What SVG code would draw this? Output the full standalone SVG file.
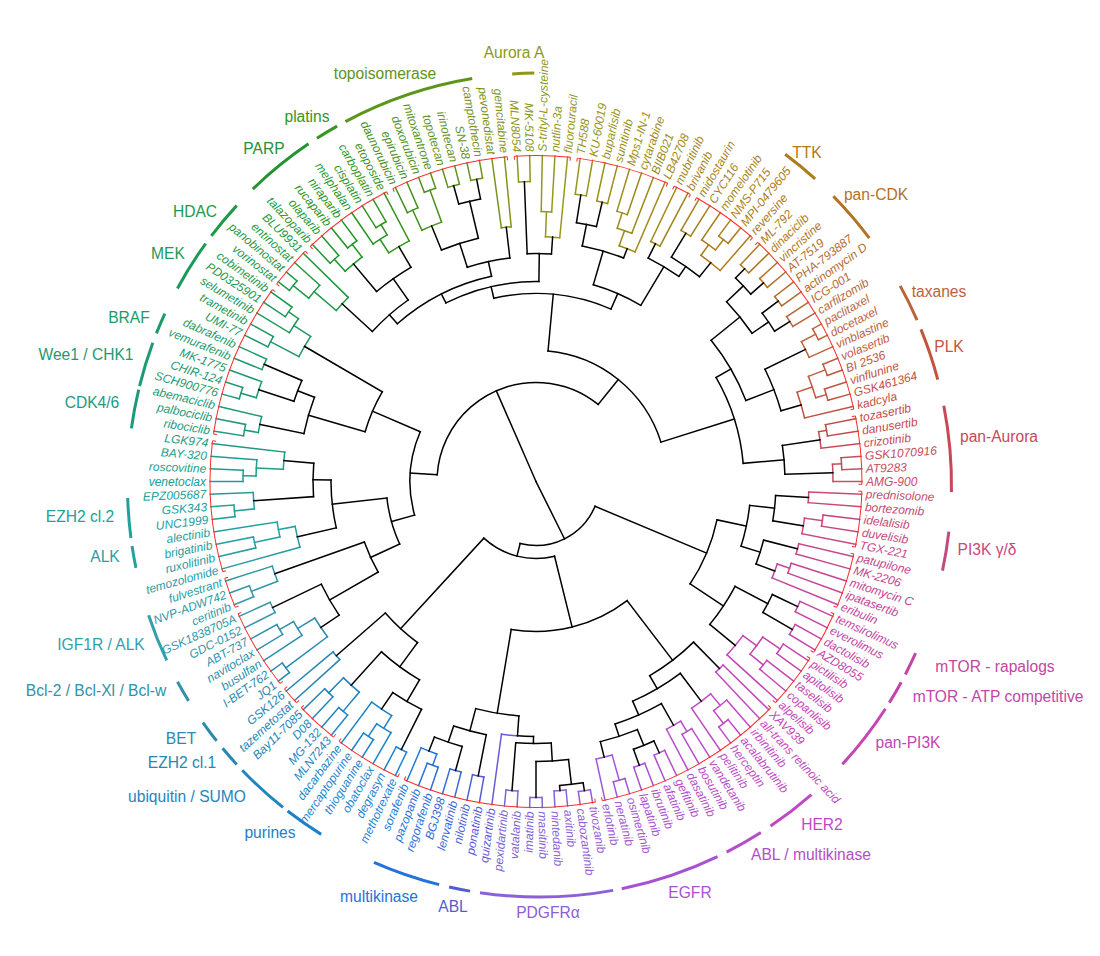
<svg xmlns="http://www.w3.org/2000/svg" width="1100" height="956" viewBox="0 0 1100 956">
<style>
.l text{font-family:"Liberation Sans",Arial,sans-serif;font-size:12px;font-style:italic;dominant-baseline:central;fill:var(--c)}
.l .e{text-anchor:end}
.g{font-family:"Liberation Sans",Arial,sans-serif;font-size:15.6px;text-anchor:middle}
.t line,.t circle{fill:none;stroke:var(--c,#000);stroke-width:1.5;stroke-linecap:square}
.rr circle,.rr line{fill:none;stroke:#ff2a2a;stroke-width:1}
.ga circle{fill:none;stroke-width:3}
.c1{--c:hsl(168,68%,36%)}.c2{--c:hsl(167,68%,36%)}.c3{--c:hsl(165,68%,36%)}.c4{--c:hsl(164,68%,36%)}.c5{--c:hsl(162,68%,36%)}.c6{--c:hsl(161,68%,36%)}.c7{--c:hsl(159,68%,36%)}.c8{--c:hsl(158,68%,36%)}.c9{--c:hsl(156,68%,36%)}.c10{--c:hsl(155,68%,36%)}
.c11{--c:hsl(152,68%,36%)}.c12{--c:hsl(150,68%,36%)}.c13{--c:hsl(147,68%,36%)}.c14{--c:hsl(145,68%,36%)}.c15{--c:hsl(142,68%,36%)}.c16{--c:hsl(140,68%,36%)}.c17{--c:hsl(137,68%,36%)}.c18{--c:hsl(135,68%,36%)}.c19{--c:hsl(131,66%,36%)}.c20{--c:hsl(127,66%,36%)}
.c21{--c:hsl(124,66%,35%)}.c22{--c:hsl(120,66%,35%)}.c23{--c:hsl(116,66%,35%)}.c24{--c:hsl(112,66%,35%)}.c25{--c:hsl(109,66%,35%)}.c26{--c:hsl(105,66%,34%)}.c27{--c:hsl(101,66%,34%)}.c28{--c:hsl(98,66%,34%)}.c29{--c:hsl(94,66%,34%)}.c30{--c:hsl(90,68%,34%)}
.c31{--c:hsl(86,68%,34%)}.c32{--c:hsl(83,68%,34%)}.c33{--c:hsl(79,68%,34%)}.c34{--c:hsl(75,70%,34%)}.c35{--c:hsl(72,70%,34%)}.c36{--c:hsl(68,70%,34%)}.c37{--c:hsl(66,70%,35%)}.c38{--c:hsl(65,70%,35%)}.c39{--c:hsl(63,70%,35%)}.c40{--c:hsl(62,70%,35%)}
.c41{--c:hsl(60,70%,35%)}.c42{--c:hsl(59,70%,35%)}.c43{--c:hsl(57,72%,35%)}.c44{--c:hsl(56,72%,35%)}.c45{--c:hsl(54,72%,35%)}.c46{--c:hsl(53,72%,36%)}.c47{--c:hsl(51,72%,36%)}.c48{--c:hsl(50,72%,36%)}.c49{--c:hsl(49,72%,37%)}.c50{--c:hsl(48,72%,37%)}
.c51{--c:hsl(46,72%,37%)}.c52{--c:hsl(45,72%,38%)}.c53{--c:hsl(44,72%,38%)}.c54{--c:hsl(43,72%,38%)}.c55{--c:hsl(42,74%,39%)}.c56{--c:hsl(40,74%,39%)}.c57{--c:hsl(39,74%,39%)}.c58{--c:hsl(38,74%,40%)}.c59{--c:hsl(36,70%,41%)}.c60{--c:hsl(33,66%,42%)}
.c61{--c:hsl(31,62%,43%)}.c62{--c:hsl(29,58%,44%)}.c63{--c:hsl(27,56%,45%)}.c64{--c:hsl(24,54%,46%)}.c65{--c:hsl(22,52%,47%)}.c66{--c:hsl(20,52%,48%)}.c67{--c:hsl(18,52%,49%)}.c68{--c:hsl(16,52%,49%)}.c69{--c:hsl(14,52%,50%)}.c70{--c:hsl(11,52%,50%)}
.c71{--c:hsl(9,52%,51%)}.c72{--c:hsl(7,52%,51%)}.c73{--c:hsl(5,52%,52%)}.c74{--c:hsl(2,52%,52%)}.c75{--c:hsl(358,52%,53%)}.c76{--c:hsl(355,52%,53%)}.c77{--c:hsl(352,52%,53%)}.c78{--c:hsl(348,52%,54%)}.c79{--c:hsl(345,52%,54%)}.c80{--c:hsl(342,52%,54%)}
.c81{--c:hsl(339,52%,53%)}.c82{--c:hsl(337,52%,53%)}.c83{--c:hsl(334,52%,53%)}.c84{--c:hsl(331,52%,53%)}.c85{--c:hsl(328,52%,53%)}.c86{--c:hsl(326,52%,52%)}.c87{--c:hsl(323,52%,52%)}.c88{--c:hsl(320,52%,52%)}.c89{--c:hsl(318,52%,52%)}.c90{--c:hsl(317,52%,52%)}
.c91{--c:hsl(315,52%,52%)}.c92{--c:hsl(314,52%,52%)}.c93{--c:hsl(312,52%,52%)}.c94{--c:hsl(311,52%,52%)}.c95{--c:hsl(309,52%,52%)}.c96{--c:hsl(308,52%,52%)}.c97{--c:hsl(306,52%,52%)}.c98{--c:hsl(305,52%,52%)}.c99{--c:hsl(303,52%,52%)}.c100{--c:hsl(302,52%,53%)}
.c101{--c:hsl(300,52%,53%)}.c102{--c:hsl(298,52%,53%)}.c103{--c:hsl(296,52%,54%)}.c104{--c:hsl(295,52%,54%)}.c105{--c:hsl(293,52%,54%)}.c106{--c:hsl(291,52%,54%)}.c107{--c:hsl(290,52%,55%)}.c108{--c:hsl(288,56%,55%)}.c109{--c:hsl(285,58%,56%)}.c110{--c:hsl(283,58%,56%)}
.c111{--c:hsl(280,58%,57%)}.c112{--c:hsl(278,60%,58%)}.c113{--c:hsl(275,60%,59%)}.c114{--c:hsl(273,60%,59%)}.c115{--c:hsl(270,60%,60%)}.c116{--c:hsl(267,60%,60%)}.c117{--c:hsl(265,60%,61%)}.c118{--c:hsl(262,60%,61%)}.c119{--c:hsl(260,60%,61%)}.c120{--c:hsl(257,60%,61%)}
.c121{--c:hsl(255,60%,62%)}.c122{--c:hsl(252,60%,62%)}.c123{--c:hsl(245,60%,60%)}.c124{--c:hsl(239,60%,59%)}.c125{--c:hsl(232,62%,57%)}.c126{--c:hsl(225,66%,55%)}.c127{--c:hsl(221,68%,53%)}.c128{--c:hsl(218,70%,52%)}.c129{--c:hsl(214,72%,50%)}.c130{--c:hsl(211,74%,49%)}
.c131{--c:hsl(207,76%,47%)}.c132{--c:hsl(206,76%,46%)}.c133{--c:hsl(205,76%,46%)}.c134{--c:hsl(205,76%,45%)}.c135{--c:hsl(204,76%,45%)}.c136{--c:hsl(203,76%,44%)}.c137{--c:hsl(202,74%,44%)}.c138{--c:hsl(202,72%,43%)}.c139{--c:hsl(201,70%,43%)}.c140{--c:hsl(200,68%,42%)}
.c141{--c:hsl(199,66%,42%)}.c142{--c:hsl(198,64%,42%)}.c143{--c:hsl(196,62%,42%)}.c144{--c:hsl(195,60%,42%)}.c145{--c:hsl(194,58%,43%)}.c146{--c:hsl(193,56%,43%)}.c147{--c:hsl(192,55%,43%)}.c148{--c:hsl(190,55%,43%)}.c149{--c:hsl(189,54%,43%)}.c150{--c:hsl(188,54%,43%)}
.c151{--c:hsl(187,56%,42%)}.c152{--c:hsl(185,58%,41%)}.c153{--c:hsl(184,60%,40%)}.c154{--c:hsl(183,62%,39%)}.c155{--c:hsl(181,64%,39%)}.c156{--c:hsl(180,66%,38%)}.c157{--c:hsl(179,66%,38%)}.c158{--c:hsl(177,66%,38%)}.c159{--c:hsl(176,66%,37%)}.c160{--c:hsl(175,66%,37%)}
.c161{--c:hsl(173,66%,37%)}.c162{--c:hsl(172,66%,37%)}
</style>
<rect width="1100" height="956" fill="#fff"/>
<g id="connectors" class="t" transform="translate(536,481.5)">
<circle class="c160" r="293" pathLength="360" stroke-dasharray="2.22 400" transform="rotate(540)"/><line class="c160" x1="293" x2="326" transform="rotate(540)"/><line class="c161" x1="293" x2="326" transform="rotate(542.22)"/>
<circle class="c161" r="280" pathLength="360" stroke-dasharray="3.33 400" transform="rotate(541.11)"/><line class="c162" x1="280" x2="326" transform="rotate(544.44)"/><line class="c161" x1="280" x2="293" transform="rotate(541.11)"/>
<circle class="c162" r="253" pathLength="360" stroke-dasharray="3.89 400" transform="rotate(542.78)"/><line class="c1" x1="253" x2="326" transform="rotate(546.67)"/><line class="c162" x1="253" x2="280" transform="rotate(542.78)"/>
<circle class="c157" r="303" pathLength="360" stroke-dasharray="2.22 400" transform="rotate(533.33)"/><line class="c157" x1="303" x2="326" transform="rotate(533.33)"/><line class="c158" x1="303" x2="326" transform="rotate(535.56)"/>
<circle class="c158" r="283" pathLength="360" stroke-dasharray="3.34 400" transform="rotate(534.44)"/><line class="c159" x1="283" x2="326" transform="rotate(537.78)"/><line class="c158" x1="283" x2="303" transform="rotate(534.44)"/>
<circle r="223" pathLength="360" stroke-dasharray="8.61 400" transform="rotate(536.11)"/><line x1="223" x2="283" transform="rotate(536.11)"/><line x1="223" x2="253" transform="rotate(544.72)"/>
<circle class="c154" r="288" pathLength="360" stroke-dasharray="2.22 400" transform="rotate(526.67)"/><line class="c154" x1="288" x2="326" transform="rotate(526.67)"/><line class="c155" x1="288" x2="326" transform="rotate(528.89)"/>
<circle class="c155" r="262" pathLength="360" stroke-dasharray="3.33 400" transform="rotate(527.78)"/><line class="c156" x1="262" x2="326" transform="rotate(531.11)"/><line class="c155" x1="262" x2="288" transform="rotate(527.78)"/>
<circle class="c154" r="245" pathLength="360" stroke-dasharray="5 400" transform="rotate(524.44)"/><line class="c153" x1="245" x2="326" transform="rotate(524.44)"/><line class="c156" x1="245" x2="262" transform="rotate(529.44)"/>
<circle r="205" pathLength="360" stroke-dasharray="13.48 400" transform="rotate(526.94)"/><line x1="205" x2="245" transform="rotate(526.94)"/><line x1="205" x2="223" transform="rotate(540.42)"/>
<circle class="c2" r="296" pathLength="360" stroke-dasharray="2.22 400" transform="rotate(548.89)"/><line class="c2" x1="296" x2="326" transform="rotate(548.89)"/><line class="c3" x1="296" x2="326" transform="rotate(551.11)"/>
<circle class="c3" r="282" pathLength="360" stroke-dasharray="3.33 400" transform="rotate(550)"/><line class="c4" x1="282" x2="326" transform="rotate(553.33)"/><line class="c3" x1="282" x2="296" transform="rotate(550)"/>
<circle class="c5" r="308" pathLength="360" stroke-dasharray="2.22 400" transform="rotate(555.56)"/><line class="c5" x1="308" x2="326" transform="rotate(555.56)"/><line class="c6" x1="308" x2="326" transform="rotate(557.78)"/>
<circle class="c6" r="292" pathLength="360" stroke-dasharray="3.33 400" transform="rotate(556.67)"/><line class="c7" x1="292" x2="326" transform="rotate(560)"/><line class="c6" x1="292" x2="308" transform="rotate(556.67)"/>
<circle class="c8" r="296" pathLength="360" stroke-dasharray="2.22 400" transform="rotate(562.22)"/><line class="c8" x1="296" x2="326" transform="rotate(562.22)"/><line class="c9" x1="296" x2="326" transform="rotate(564.44)"/>
<circle r="255" pathLength="360" stroke-dasharray="5 400" transform="rotate(558.33)"/><line x1="255" x2="292" transform="rotate(558.33)"/><line x1="255" x2="296" transform="rotate(563.33)"/>
<circle r="237" pathLength="360" stroke-dasharray="9.16 400" transform="rotate(551.67)"/><line x1="237" x2="282" transform="rotate(551.67)"/><line x1="237" x2="255" transform="rotate(560.83)"/>
<circle class="c10" r="300" pathLength="360" stroke-dasharray="2.22 400" transform="rotate(566.67)"/><line class="c10" x1="300" x2="326" transform="rotate(566.67)"/><line class="c11" x1="300" x2="326" transform="rotate(568.89)"/>
<circle class="c13" r="300" pathLength="360" stroke-dasharray="2.22 400" transform="rotate(573.33)"/><line class="c13" x1="300" x2="326" transform="rotate(573.33)"/><line class="c14" x1="300" x2="326" transform="rotate(575.56)"/>
<circle class="c12" r="288" pathLength="360" stroke-dasharray="3.33 400" transform="rotate(571.11)"/><line class="c12" x1="288" x2="326" transform="rotate(571.11)"/><line class="c13" x1="288" x2="300" transform="rotate(574.44)"/>
<circle class="c11" r="268" pathLength="360" stroke-dasharray="5 400" transform="rotate(567.78)"/><line class="c10" x1="268" x2="300" transform="rotate(567.78)"/><line class="c12" x1="268" x2="288" transform="rotate(572.78)"/>
<circle r="178" pathLength="360" stroke-dasharray="14.03 400" transform="rotate(556.25)"/><line x1="178" x2="237" transform="rotate(556.25)"/><line x1="178" x2="268" transform="rotate(570.28)"/>
<circle class="c143" r="312" pathLength="360" stroke-dasharray="2.22 400" transform="rotate(502.22)"/><line class="c143" x1="312" x2="326" transform="rotate(502.22)"/><line class="c144" x1="312" x2="326" transform="rotate(504.44)"/>
<circle class="c146" r="296" pathLength="360" stroke-dasharray="2.22 400" transform="rotate(508.89)"/><line class="c146" x1="296" x2="326" transform="rotate(508.89)"/><line class="c147" x1="296" x2="326" transform="rotate(511.11)"/>
<circle class="c145" r="280" pathLength="360" stroke-dasharray="3.33 400" transform="rotate(506.67)"/><line class="c145" x1="280" x2="326" transform="rotate(506.67)"/><line class="c146" x1="280" x2="296" transform="rotate(510)"/>
<circle class="c144" r="260" pathLength="360" stroke-dasharray="5 400" transform="rotate(503.33)"/><line class="c143" x1="260" x2="312" transform="rotate(503.33)"/><line class="c145" x1="260" x2="280" transform="rotate(508.33)"/>
<circle class="c148" r="292" pathLength="360" stroke-dasharray="2.22 400" transform="rotate(513.33)"/><line class="c148" x1="292" x2="326" transform="rotate(513.33)"/><line class="c149" x1="292" x2="326" transform="rotate(515.56)"/>
<circle r="238" pathLength="360" stroke-dasharray="8.61 400" transform="rotate(505.83)"/><line x1="238" x2="260" transform="rotate(505.83)"/><line x1="238" x2="292" transform="rotate(514.44)"/>
<circle class="c150" r="305" pathLength="360" stroke-dasharray="2.22 400" transform="rotate(517.78)"/><line class="c150" x1="305" x2="326" transform="rotate(517.78)"/><line class="c151" x1="305" x2="326" transform="rotate(520)"/>
<circle class="c151" r="277" pathLength="360" stroke-dasharray="3.33 400" transform="rotate(518.89)"/><line class="c150" x1="277" x2="305" transform="rotate(518.89)"/><line class="c152" x1="277" x2="326" transform="rotate(522.22)"/>
<circle r="182" pathLength="360" stroke-dasharray="10.42 400" transform="rotate(510.14)"/><line x1="182" x2="238" transform="rotate(510.14)"/><line x1="182" x2="277" transform="rotate(520.56)"/>
<circle r="150" pathLength="360" stroke-dasharray="18.33 400" transform="rotate(515.35)"/><line x1="150" x2="182" transform="rotate(515.35)"/><line x1="150" x2="205" transform="rotate(533.68)"/>
<circle r="126" pathLength="360" stroke-dasharray="38.75 400" transform="rotate(524.51)"/><line x1="126" x2="150" transform="rotate(524.51)"/><line x1="126" x2="178" transform="rotate(563.26)"/>
<circle class="c15" r="312" pathLength="360" stroke-dasharray="2.22 400" transform="rotate(577.78)"/><line class="c15" x1="312" x2="326" transform="rotate(577.78)"/><line class="c16" x1="312" x2="326" transform="rotate(580)"/>
<circle class="c16" r="292" pathLength="360" stroke-dasharray="3.33 400" transform="rotate(578.89)"/><line class="c15" x1="292" x2="312" transform="rotate(578.89)"/><line class="c17" x1="292" x2="326" transform="rotate(582.22)"/>
<circle class="c17" r="263" pathLength="360" stroke-dasharray="3.88 400" transform="rotate(580.56)"/><line class="c16" x1="263" x2="292" transform="rotate(580.56)"/><line class="c18" x1="263" x2="326" transform="rotate(584.44)"/>
<circle class="c19" r="300" pathLength="360" stroke-dasharray="2.22 400" transform="rotate(586.67)"/><line class="c19" x1="300" x2="326" transform="rotate(586.67)"/><line class="c20" x1="300" x2="326" transform="rotate(588.89)"/>
<circle class="c21" r="300" pathLength="360" stroke-dasharray="2.22 400" transform="rotate(591.11)"/><line class="c21" x1="300" x2="326" transform="rotate(591.11)"/><line class="c22" x1="300" x2="326" transform="rotate(593.33)"/>
<circle class="c20" r="284" pathLength="360" stroke-dasharray="4.44 400" transform="rotate(587.78)"/><line class="c19" x1="284" x2="300" transform="rotate(587.78)"/><line class="c21" x1="284" x2="300" transform="rotate(592.22)"/>
<circle class="c24" r="300" pathLength="360" stroke-dasharray="2.22 400" transform="rotate(597.78)"/><line class="c24" x1="300" x2="326" transform="rotate(597.78)"/><line class="c25" x1="300" x2="326" transform="rotate(600)"/>
<circle class="c23" r="288" pathLength="360" stroke-dasharray="3.33 400" transform="rotate(595.56)"/><line class="c23" x1="288" x2="326" transform="rotate(595.56)"/><line class="c24" x1="288" x2="300" transform="rotate(598.89)"/>
<circle class="c25" r="272" pathLength="360" stroke-dasharray="5 400" transform="rotate(597.22)"/><line class="c24" x1="272" x2="288" transform="rotate(597.22)"/><line class="c26" x1="272" x2="326" transform="rotate(602.22)"/>
<circle r="248" pathLength="360" stroke-dasharray="9.72 400" transform="rotate(590)"/><line x1="248" x2="284" transform="rotate(590)"/><line x1="248" x2="272" transform="rotate(599.72)"/>
<circle class="c27" r="298" pathLength="360" stroke-dasharray="2.22 400" transform="rotate(604.44)"/><line class="c27" x1="298" x2="326" transform="rotate(604.44)"/><line class="c28" x1="298" x2="326" transform="rotate(606.67)"/>
<circle class="c29" r="310" pathLength="360" stroke-dasharray="2.22 400" transform="rotate(608.89)"/><line class="c29" x1="310" x2="326" transform="rotate(608.89)"/><line class="c30" x1="310" x2="326" transform="rotate(611.11)"/>
<circle class="c28" r="276" pathLength="360" stroke-dasharray="4.44 400" transform="rotate(605.56)"/><line class="c27" x1="276" x2="298" transform="rotate(605.56)"/><line class="c29" x1="276" x2="310" transform="rotate(610)"/>
<circle class="c31" r="307" pathLength="360" stroke-dasharray="2.22 400" transform="rotate(613.33)"/><line class="c31" x1="307" x2="326" transform="rotate(613.33)"/><line class="c32" x1="307" x2="326" transform="rotate(615.56)"/>
<circle class="c33" r="308" pathLength="360" stroke-dasharray="2.22 400" transform="rotate(617.78)"/><line class="c33" x1="308" x2="326" transform="rotate(617.78)"/><line class="c34" x1="308" x2="326" transform="rotate(620)"/>
<circle r="288" pathLength="360" stroke-dasharray="4.45 400" transform="rotate(614.44)"/><line x1="288" x2="307" transform="rotate(614.44)"/><line x1="288" x2="308" transform="rotate(618.89)"/>
<circle r="250" pathLength="360" stroke-dasharray="8.89 400" transform="rotate(607.78)"/><line x1="250" x2="276" transform="rotate(607.78)"/><line x1="250" x2="288" transform="rotate(616.67)"/>
<circle class="c35" r="256" pathLength="360" stroke-dasharray="2.22 400" transform="rotate(622.22)"/><line class="c35" x1="256" x2="326" transform="rotate(622.22)"/><line class="c36" x1="256" x2="326" transform="rotate(624.44)"/>
<circle r="225" pathLength="360" stroke-dasharray="11.11 400" transform="rotate(612.22)"/><line x1="225" x2="250" transform="rotate(612.22)"/><line x1="225" x2="256" transform="rotate(623.33)"/>
<circle class="c37" r="300" pathLength="360" stroke-dasharray="2.22 400" transform="rotate(626.67)"/><line class="c37" x1="300" x2="326" transform="rotate(626.67)"/><line class="c38" x1="300" x2="326" transform="rotate(628.89)"/>
<circle class="c39" r="270" pathLength="360" stroke-dasharray="2.22 400" transform="rotate(631.11)"/><line class="c39" x1="270" x2="326" transform="rotate(631.11)"/><line class="c40" x1="270" x2="326" transform="rotate(633.33)"/>
<circle class="c40" r="245" pathLength="360" stroke-dasharray="3.34 400" transform="rotate(632.22)"/><line class="c39" x1="245" x2="270" transform="rotate(632.22)"/><line class="c41" x1="245" x2="326" transform="rotate(635.56)"/>
<circle r="228" pathLength="360" stroke-dasharray="6.11 400" transform="rotate(627.78)"/><line x1="228" x2="300" transform="rotate(627.78)"/><line x1="228" x2="245" transform="rotate(633.89)"/>
<circle class="c42" r="290" pathLength="360" stroke-dasharray="2.22 400" transform="rotate(637.78)"/><line class="c42" x1="290" x2="326" transform="rotate(637.78)"/><line class="c43" x1="290" x2="326" transform="rotate(640)"/>
<circle class="c44" r="287" pathLength="360" stroke-dasharray="2.22 400" transform="rotate(642.22)"/><line class="c44" x1="287" x2="326" transform="rotate(642.22)"/><line class="c45" x1="287" x2="326" transform="rotate(644.44)"/>
<circle r="262" pathLength="360" stroke-dasharray="4.44 400" transform="rotate(638.89)"/><line x1="262" x2="290" transform="rotate(638.89)"/><line x1="262" x2="287" transform="rotate(643.33)"/>
<circle class="c46" r="282" pathLength="360" stroke-dasharray="2.22 400" transform="rotate(646.67)"/><line class="c46" x1="282" x2="326" transform="rotate(646.67)"/><line class="c47" x1="282" x2="326" transform="rotate(648.89)"/>
<circle class="c47" r="266" pathLength="360" stroke-dasharray="3.33 400" transform="rotate(647.78)"/><line class="c46" x1="266" x2="282" transform="rotate(647.78)"/><line class="c48" x1="266" x2="326" transform="rotate(651.11)"/>
<circle class="c48" r="250" pathLength="360" stroke-dasharray="3.89 400" transform="rotate(649.44)"/><line class="c47" x1="250" x2="266" transform="rotate(649.44)"/><line class="c49" x1="250" x2="326" transform="rotate(653.33)"/>
<circle r="240" pathLength="360" stroke-dasharray="10.28 400" transform="rotate(641.11)"/><line x1="240" x2="262" transform="rotate(641.11)"/><line x1="240" x2="250" transform="rotate(651.39)"/>
<circle class="c50" r="266" pathLength="360" stroke-dasharray="2.22 400" transform="rotate(655.56)"/><line class="c50" x1="266" x2="326" transform="rotate(655.56)"/><line class="c51" x1="266" x2="326" transform="rotate(657.78)"/>
<circle class="c52" r="290" pathLength="360" stroke-dasharray="2.22 400" transform="rotate(660)"/><line class="c52" x1="290" x2="326" transform="rotate(660)"/><line class="c53" x1="290" x2="326" transform="rotate(662.22)"/>
<circle class="c55" r="306" pathLength="360" stroke-dasharray="2.22 400" transform="rotate(666.67)"/><line class="c55" x1="306" x2="326" transform="rotate(666.67)"/><line class="c56" x1="306" x2="326" transform="rotate(668.89)"/>
<circle class="c54" r="293" pathLength="360" stroke-dasharray="3.34 400" transform="rotate(664.44)"/><line class="c54" x1="293" x2="326" transform="rotate(664.44)"/><line class="c55" x1="293" x2="306" transform="rotate(667.78)"/>
<circle class="c56" r="280" pathLength="360" stroke-dasharray="5 400" transform="rotate(666.11)"/><line class="c54" x1="280" x2="293" transform="rotate(666.11)"/><line class="c57" x1="280" x2="326" transform="rotate(671.11)"/>
<circle r="262" pathLength="360" stroke-dasharray="7.5 400" transform="rotate(661.11)"/><line x1="262" x2="290" transform="rotate(661.11)"/><line x1="262" x2="280" transform="rotate(668.61)"/>
<circle r="250" pathLength="360" stroke-dasharray="8.19 400" transform="rotate(656.67)"/><line x1="250" x2="266" transform="rotate(656.67)"/><line x1="250" x2="262" transform="rotate(664.86)"/>
<circle class="c58" r="298" pathLength="360" stroke-dasharray="2.22 400" transform="rotate(673.33)"/><line class="c58" x1="298" x2="326" transform="rotate(673.33)"/><line class="c59" x1="298" x2="326" transform="rotate(675.56)"/>
<circle class="c60" r="302" pathLength="360" stroke-dasharray="2.22 400" transform="rotate(677.78)"/><line class="c60" x1="302" x2="326" transform="rotate(677.78)"/><line class="c61" x1="302" x2="326" transform="rotate(680)"/>
<circle r="285" pathLength="360" stroke-dasharray="4.45 400" transform="rotate(674.44)"/><line x1="285" x2="298" transform="rotate(674.44)"/><line x1="285" x2="302" transform="rotate(678.89)"/>
<circle class="c62" r="302" pathLength="360" stroke-dasharray="2.22 400" transform="rotate(682.22)"/><line class="c62" x1="302" x2="326" transform="rotate(682.22)"/><line class="c63" x1="302" x2="326" transform="rotate(684.44)"/>
<circle class="c64" r="300" pathLength="360" stroke-dasharray="2.22 400" transform="rotate(686.67)"/><line class="c64" x1="300" x2="326" transform="rotate(686.67)"/><line class="c65" x1="300" x2="326" transform="rotate(688.89)"/>
<circle r="282" pathLength="360" stroke-dasharray="4.45 400" transform="rotate(683.33)"/><line x1="282" x2="302" transform="rotate(683.33)"/><line x1="282" x2="300" transform="rotate(687.78)"/>
<circle r="262" pathLength="360" stroke-dasharray="8.89 400" transform="rotate(676.67)"/><line x1="262" x2="285" transform="rotate(676.67)"/><line x1="262" x2="282" transform="rotate(685.56)"/>
<circle class="c66" r="316" pathLength="360" stroke-dasharray="2.22 400" transform="rotate(691.11)"/><line class="c66" x1="316" x2="326" transform="rotate(691.11)"/><line class="c67" x1="316" x2="326" transform="rotate(693.33)"/>
<circle class="c67" r="300" pathLength="360" stroke-dasharray="3.34 400" transform="rotate(692.22)"/><line class="c66" x1="300" x2="316" transform="rotate(692.22)"/><line class="c68" x1="300" x2="326" transform="rotate(695.56)"/>
<circle class="c69" r="310" pathLength="360" stroke-dasharray="2.22 400" transform="rotate(697.78)"/><line class="c69" x1="310" x2="326" transform="rotate(697.78)"/><line class="c70" x1="310" x2="326" transform="rotate(700)"/>
<circle class="c71" r="303" pathLength="360" stroke-dasharray="2.22 400" transform="rotate(702.22)"/><line class="c71" x1="303" x2="326" transform="rotate(702.22)"/><line class="c72" x1="303" x2="326" transform="rotate(704.44)"/>
<circle class="c70" r="292" pathLength="360" stroke-dasharray="4.44 400" transform="rotate(698.89)"/><line class="c69" x1="292" x2="310" transform="rotate(698.89)"/><line class="c71" x1="292" x2="303" transform="rotate(703.33)"/>
<circle class="c72" r="276" pathLength="360" stroke-dasharray="5.56 400" transform="rotate(701.11)"/><line class="c70" x1="276" x2="292" transform="rotate(701.11)"/><line class="c73" x1="276" x2="326" transform="rotate(706.67)"/>
<circle r="255" pathLength="360" stroke-dasharray="10 400" transform="rotate(693.89)"/><line x1="255" x2="300" transform="rotate(693.89)"/><line x1="255" x2="276" transform="rotate(703.89)"/>
<circle r="225" pathLength="360" stroke-dasharray="17.78 400" transform="rotate(681.11)"/><line x1="225" x2="262" transform="rotate(681.11)"/><line x1="225" x2="255" transform="rotate(698.89)"/>
<circle class="c74" r="295" pathLength="360" stroke-dasharray="2.22 400" transform="rotate(708.89)"/><line class="c74" x1="295" x2="326" transform="rotate(708.89)"/><line class="c75" x1="295" x2="326" transform="rotate(711.11)"/>
<circle class="c75" r="287" pathLength="360" stroke-dasharray="3.33 400" transform="rotate(710)"/><line class="c74" x1="287" x2="295" transform="rotate(710)"/><line class="c76" x1="287" x2="326" transform="rotate(713.33)"/>
<circle class="c77" r="306" pathLength="360" stroke-dasharray="2.22 400" transform="rotate(715.56)"/><line class="c77" x1="306" x2="326" transform="rotate(715.56)"/><line class="c78" x1="306" x2="326" transform="rotate(717.78)"/>
<circle class="c78" r="297" pathLength="360" stroke-dasharray="3.33 400" transform="rotate(716.67)"/><line class="c77" x1="297" x2="306" transform="rotate(716.67)"/><line class="c79" x1="297" x2="326" transform="rotate(720)"/>
<circle r="249" pathLength="360" stroke-dasharray="6.66 400" transform="rotate(711.67)"/><line x1="249" x2="287" transform="rotate(711.67)"/><line x1="249" x2="297" transform="rotate(718.33)"/>
<circle r="222" pathLength="360" stroke-dasharray="12.36 400" transform="rotate(582.5)"/><line x1="222" x2="263" transform="rotate(582.5)"/><line x1="222" x2="248" transform="rotate(594.86)"/>
<circle r="210" pathLength="360" stroke-dasharray="29.1 400" transform="rotate(588.68)"/><line x1="210" x2="222" transform="rotate(588.68)"/><line x1="210" x2="225" transform="rotate(617.78)"/>
<circle r="200" pathLength="360" stroke-dasharray="27.6 400" transform="rotate(603.23)"/><line x1="200" x2="210" transform="rotate(603.23)"/><line x1="200" x2="228" transform="rotate(630.83)"/>
<circle r="205" pathLength="360" stroke-dasharray="14.51 400" transform="rotate(646.25)"/><line x1="205" x2="240" transform="rotate(646.25)"/><line x1="205" x2="250" transform="rotate(660.76)"/>
<circle r="188" pathLength="360" stroke-dasharray="36.48 400" transform="rotate(617.03)"/><line x1="188" x2="200" transform="rotate(617.03)"/><line x1="188" x2="205" transform="rotate(653.51)"/>
<circle r="208" pathLength="360" stroke-dasharray="25 400" transform="rotate(690)"/><line x1="208" x2="225" transform="rotate(690)"/><line x1="208" x2="249" transform="rotate(715)"/>
<circle r="131" pathLength="360" stroke-dasharray="67.23 400" transform="rotate(635.27)"/><line x1="131" x2="188" transform="rotate(635.27)"/><line x1="131" x2="208" transform="rotate(702.5)"/>
<circle r="99" pathLength="360" stroke-dasharray="125 400" transform="rotate(543.89)"/><line x1="99" x2="126" transform="rotate(543.89)"/><line x1="99" x2="131" transform="rotate(668.89)"/>
<circle class="c80" r="273" pathLength="360" stroke-dasharray="2.22 400" transform="rotate(362.22)"/><line class="c80" x1="273" x2="326" transform="rotate(362.22)"/><line class="c81" x1="273" x2="326" transform="rotate(364.44)"/>
<circle class="c82" r="289" pathLength="360" stroke-dasharray="2.22 400" transform="rotate(366.67)"/><line class="c82" x1="289" x2="326" transform="rotate(366.67)"/><line class="c83" x1="289" x2="326" transform="rotate(368.89)"/>
<circle class="c83" r="271" pathLength="360" stroke-dasharray="3.33 400" transform="rotate(367.78)"/><line class="c82" x1="271" x2="289" transform="rotate(367.78)"/><line class="c84" x1="271" x2="326" transform="rotate(371.11)"/>
<circle r="240" pathLength="360" stroke-dasharray="6.11 400" transform="rotate(363.33)"/><line x1="240" x2="273" transform="rotate(363.33)"/><line x1="240" x2="271" transform="rotate(369.44)"/>
<circle class="c85" r="270" pathLength="360" stroke-dasharray="2.22 400" transform="rotate(373.33)"/><line class="c85" x1="270" x2="326" transform="rotate(373.33)"/><line class="c86" x1="270" x2="326" transform="rotate(375.56)"/>
<circle class="c87" r="268" pathLength="360" stroke-dasharray="2.22 400" transform="rotate(377.78)"/><line class="c87" x1="268" x2="326" transform="rotate(377.78)"/><line class="c88" x1="268" x2="326" transform="rotate(380)"/>
<circle class="c88" r="255" pathLength="360" stroke-dasharray="3.33 400" transform="rotate(378.89)"/><line class="c87" x1="255" x2="268" transform="rotate(378.89)"/><line class="c89" x1="255" x2="326" transform="rotate(382.22)"/>
<circle r="235" pathLength="360" stroke-dasharray="6.12 400" transform="rotate(374.44)"/><line x1="235" x2="270" transform="rotate(374.44)"/><line x1="235" x2="255" transform="rotate(380.56)"/>
<circle class="c90" r="290" pathLength="360" stroke-dasharray="2.22 400" transform="rotate(384.44)"/><line class="c90" x1="290" x2="326" transform="rotate(384.44)"/><line class="c91" x1="290" x2="326" transform="rotate(386.67)"/>
<circle class="c92" r="296" pathLength="360" stroke-dasharray="2.22 400" transform="rotate(388.89)"/><line class="c92" x1="296" x2="326" transform="rotate(388.89)"/><line class="c93" x1="296" x2="326" transform="rotate(391.11)"/>
<circle r="262" pathLength="360" stroke-dasharray="4.44 400" transform="rotate(385.56)"/><line x1="262" x2="290" transform="rotate(385.56)"/><line x1="262" x2="296" transform="rotate(390)"/>
<circle class="c94" r="296" pathLength="360" stroke-dasharray="2.22 400" transform="rotate(393.33)"/><line class="c94" x1="296" x2="326" transform="rotate(393.33)"/><line class="c95" x1="296" x2="326" transform="rotate(395.56)"/>
<circle class="c96" r="292" pathLength="360" stroke-dasharray="2.22 400" transform="rotate(397.78)"/><line class="c96" x1="292" x2="326" transform="rotate(397.78)"/><line class="c97" x1="292" x2="326" transform="rotate(400)"/>
<circle class="c95" r="275" pathLength="360" stroke-dasharray="4.45 400" transform="rotate(394.44)"/><line class="c94" x1="275" x2="296" transform="rotate(394.44)"/><line class="c96" x1="275" x2="292" transform="rotate(398.89)"/>
<circle class="c97" r="258" pathLength="360" stroke-dasharray="5.55 400" transform="rotate(396.67)"/><line class="c95" x1="258" x2="275" transform="rotate(396.67)"/><line class="c98" x1="258" x2="326" transform="rotate(402.22)"/>
<circle r="215" pathLength="360" stroke-dasharray="11.11 400" transform="rotate(366.39)"/><line x1="215" x2="240" transform="rotate(366.39)"/><line x1="215" x2="235" transform="rotate(377.5)"/>
<circle r="225" pathLength="360" stroke-dasharray="11.66 400" transform="rotate(387.78)"/><line x1="225" x2="262" transform="rotate(387.78)"/><line x1="225" x2="258" transform="rotate(399.44)"/>
<circle r="185" pathLength="360" stroke-dasharray="21.66 400" transform="rotate(371.95)"/><line x1="185" x2="215" transform="rotate(371.95)"/><line x1="185" x2="225" transform="rotate(393.61)"/>
<circle class="c99" r="262" pathLength="360" stroke-dasharray="2.22 400" transform="rotate(404.44)"/><line class="c99" x1="262" x2="326" transform="rotate(404.44)"/><line class="c100" x1="262" x2="326" transform="rotate(406.67)"/>
<circle class="c102" r="306" pathLength="360" stroke-dasharray="2.22 400" transform="rotate(411.11)"/><line class="c102" x1="306" x2="326" transform="rotate(411.11)"/><line class="c103" x1="306" x2="326" transform="rotate(413.33)"/>
<circle class="c101" r="290" pathLength="360" stroke-dasharray="3.33 400" transform="rotate(408.89)"/><line class="c101" x1="290" x2="326" transform="rotate(408.89)"/><line class="c102" x1="290" x2="306" transform="rotate(412.22)"/>
<circle class="c103" r="275" pathLength="360" stroke-dasharray="5 400" transform="rotate(410.56)"/><line class="c101" x1="275" x2="290" transform="rotate(410.56)"/><line class="c104" x1="275" x2="326" transform="rotate(415.56)"/>
<circle class="c105" r="292" pathLength="360" stroke-dasharray="2.22 400" transform="rotate(417.78)"/><line class="c105" x1="292" x2="326" transform="rotate(417.78)"/><line class="c106" x1="292" x2="326" transform="rotate(420)"/>
<circle class="c106" r="280" pathLength="360" stroke-dasharray="3.33 400" transform="rotate(418.89)"/><line class="c105" x1="280" x2="292" transform="rotate(418.89)"/><line class="c107" x1="280" x2="326" transform="rotate(422.22)"/>
<circle class="c108" r="298" pathLength="360" stroke-dasharray="2.22 400" transform="rotate(424.44)"/><line class="c108" x1="298" x2="326" transform="rotate(424.44)"/><line class="c109" x1="298" x2="326" transform="rotate(426.67)"/>
<circle class="c110" r="302" pathLength="360" stroke-dasharray="2.22 400" transform="rotate(428.89)"/><line class="c110" x1="302" x2="326" transform="rotate(428.89)"/><line class="c111" x1="302" x2="326" transform="rotate(431.11)"/>
<circle r="285" pathLength="360" stroke-dasharray="4.44 400" transform="rotate(425.56)"/><line x1="285" x2="298" transform="rotate(425.56)"/><line x1="285" x2="302" transform="rotate(430)"/>
<circle class="c112" r="310" pathLength="360" stroke-dasharray="2.22 400" transform="rotate(433.33)"/><line class="c112" x1="310" x2="326" transform="rotate(433.33)"/><line class="c113" x1="310" x2="326" transform="rotate(435.56)"/>
<circle class="c113" r="284" pathLength="360" stroke-dasharray="3.34 400" transform="rotate(434.44)"/><line class="c112" x1="284" x2="310" transform="rotate(434.44)"/><line class="c114" x1="284" x2="326" transform="rotate(437.78)"/>
<circle r="268" pathLength="360" stroke-dasharray="8.33 400" transform="rotate(427.78)"/><line x1="268" x2="285" transform="rotate(427.78)"/><line x1="268" x2="284" transform="rotate(436.11)"/>
<circle r="255" pathLength="360" stroke-dasharray="11.38 400" transform="rotate(420.56)"/><line x1="255" x2="280" transform="rotate(420.56)"/><line x1="255" x2="268" transform="rotate(431.94)"/>
<circle r="240" pathLength="360" stroke-dasharray="13.19 400" transform="rotate(413.06)"/><line x1="240" x2="275" transform="rotate(413.06)"/><line x1="240" x2="255" transform="rotate(426.25)"/>
<circle r="225" pathLength="360" stroke-dasharray="14.09 400" transform="rotate(405.56)"/><line x1="225" x2="262" transform="rotate(405.56)"/><line x1="225" x2="240" transform="rotate(419.65)"/>
<circle class="c115" r="313" pathLength="360" stroke-dasharray="2.22 400" transform="rotate(440)"/><line class="c115" x1="313" x2="326" transform="rotate(440)"/><line class="c116" x1="313" x2="326" transform="rotate(442.22)"/>
<circle class="c117" r="310" pathLength="360" stroke-dasharray="2.22 400" transform="rotate(444.44)"/><line class="c117" x1="310" x2="326" transform="rotate(444.44)"/><line class="c118" x1="310" x2="326" transform="rotate(446.67)"/>
<circle r="305" pathLength="360" stroke-dasharray="4.45 400" transform="rotate(441.11)"/><line x1="305" x2="313" transform="rotate(441.11)"/><line x1="305" x2="310" transform="rotate(445.56)"/>
<circle class="c119" r="316" pathLength="360" stroke-dasharray="2.22 400" transform="rotate(448.89)"/><line class="c119" x1="316" x2="326" transform="rotate(448.89)"/><line class="c120" x1="316" x2="326" transform="rotate(451.11)"/>
<circle r="280" pathLength="360" stroke-dasharray="6.67 400" transform="rotate(443.33)"/><line x1="280" x2="305" transform="rotate(443.33)"/><line x1="280" x2="316" transform="rotate(450)"/>
<circle class="c121" r="310" pathLength="360" stroke-dasharray="2.22 400" transform="rotate(453.33)"/><line class="c121" x1="310" x2="326" transform="rotate(453.33)"/><line class="c122" x1="310" x2="326" transform="rotate(455.56)"/>
<circle r="262" pathLength="360" stroke-dasharray="7.77 400" transform="rotate(446.67)"/><line x1="262" x2="280" transform="rotate(446.67)"/><line x1="262" x2="310" transform="rotate(454.44)"/>
<circle r="255" pathLength="360" stroke-dasharray="3.61 400" transform="rotate(450.56)"/><circle class="c123" r="255" pathLength="360" stroke-dasharray="3.61 400" transform="rotate(454.17)"/><line x1="255" x2="262" transform="rotate(450.56)"/><line class="c123" x1="255" x2="326" transform="rotate(457.78)"/>
<circle class="c124" r="300" pathLength="360" stroke-dasharray="2.22 400" transform="rotate(460)"/><line class="c124" x1="300" x2="326" transform="rotate(460)"/><line class="c125" x1="300" x2="326" transform="rotate(462.22)"/>
<circle class="c126" r="300" pathLength="360" stroke-dasharray="2.22 400" transform="rotate(464.44)"/><line class="c126" x1="300" x2="326" transform="rotate(464.44)"/><line class="c127" x1="300" x2="326" transform="rotate(466.67)"/>
<circle class="c128" r="302" pathLength="360" stroke-dasharray="2.22 400" transform="rotate(468.89)"/><line class="c128" x1="302" x2="326" transform="rotate(468.89)"/><line class="c129" x1="302" x2="326" transform="rotate(471.11)"/>
<circle class="c129" r="290" pathLength="360" stroke-dasharray="3.33 400" transform="rotate(470)"/><line class="c128" x1="290" x2="302" transform="rotate(470)"/><line class="c130" x1="290" x2="326" transform="rotate(473.33)"/>
<circle r="275" pathLength="360" stroke-dasharray="6.11 400" transform="rotate(465.56)"/><line x1="275" x2="300" transform="rotate(465.56)"/><line x1="275" x2="290" transform="rotate(471.67)"/>
<circle r="258" pathLength="360" stroke-dasharray="7.5 400" transform="rotate(461.11)"/><line x1="258" x2="300" transform="rotate(461.11)"/><line x1="258" x2="275" transform="rotate(468.61)"/>
<circle r="235" pathLength="360" stroke-dasharray="10.69 400" transform="rotate(454.17)"/><line x1="235" x2="255" transform="rotate(454.17)"/><line x1="235" x2="258" transform="rotate(464.86)"/>
<circle class="c131" r="300" pathLength="360" stroke-dasharray="2.22 400" transform="rotate(475.56)"/><line class="c131" x1="300" x2="326" transform="rotate(475.56)"/><line class="c132" x1="300" x2="326" transform="rotate(477.78)"/>
<circle class="c134" r="305" pathLength="360" stroke-dasharray="2.22 400" transform="rotate(482.22)"/><line class="c134" x1="305" x2="326" transform="rotate(482.22)"/><line class="c135" x1="305" x2="326" transform="rotate(484.44)"/>
<circle class="c133" r="290" pathLength="360" stroke-dasharray="3.33 400" transform="rotate(480)"/><line class="c133" x1="290" x2="326" transform="rotate(480)"/><line class="c134" x1="290" x2="305" transform="rotate(483.33)"/>
<circle class="c135" r="275" pathLength="360" stroke-dasharray="5 400" transform="rotate(481.67)"/><line class="c133" x1="275" x2="290" transform="rotate(481.67)"/><line class="c136" x1="275" x2="326" transform="rotate(486.67)"/>
<circle r="255" pathLength="360" stroke-dasharray="7.5 400" transform="rotate(476.67)"/><line x1="255" x2="300" transform="rotate(476.67)"/><line x1="255" x2="275" transform="rotate(484.17)"/>
<circle class="c137" r="300" pathLength="360" stroke-dasharray="2.22 400" transform="rotate(488.89)"/><line class="c137" x1="300" x2="326" transform="rotate(488.89)"/><line class="c138" x1="300" x2="326" transform="rotate(491.11)"/>
<circle class="c139" r="296" pathLength="360" stroke-dasharray="2.22 400" transform="rotate(493.33)"/><line class="c139" x1="296" x2="326" transform="rotate(493.33)"/><line class="c140" x1="296" x2="326" transform="rotate(495.56)"/>
<circle class="c138" r="275" pathLength="360" stroke-dasharray="4.44 400" transform="rotate(490)"/><line class="c137" x1="275" x2="300" transform="rotate(490)"/><line class="c139" x1="275" x2="296" transform="rotate(494.44)"/>
<circle class="c141" r="265" pathLength="360" stroke-dasharray="2.22 400" transform="rotate(497.78)"/><line class="c141" x1="265" x2="326" transform="rotate(497.78)"/><line class="c142" x1="265" x2="326" transform="rotate(500)"/>
<circle r="150" pathLength="360" stroke-dasharray="46.91 400" transform="rotate(412.6)"/><line x1="150" x2="225" transform="rotate(412.6)"/><line x1="150" x2="235" transform="rotate(459.51)"/>
<circle r="230" pathLength="360" stroke-dasharray="11.8 400" transform="rotate(480.42)"/><line x1="230" x2="255" transform="rotate(480.42)"/><line x1="230" x2="275" transform="rotate(492.22)"/>
<circle r="200" pathLength="360" stroke-dasharray="12.57 400" transform="rotate(486.32)"/><line x1="200" x2="230" transform="rotate(486.32)"/><line x1="200" x2="265" transform="rotate(498.89)"/>
<circle r="77" pathLength="360" stroke-dasharray="56.55 400" transform="rotate(436.06)"/><line x1="77" x2="150" transform="rotate(436.06)"/><line x1="77" x2="200" transform="rotate(492.61)"/>
<circle r="64" pathLength="360" stroke-dasharray="81.55 400" transform="rotate(382.78)"/><line x1="64" x2="185" transform="rotate(382.78)"/><line x1="64" x2="77" transform="rotate(464.33)"/>
<line x1="0" x2="99" transform="rotate(606.39)"/><line x1="0" x2="64" transform="rotate(423.56)"/>
</g>
<g id="ring" class="rr" transform="translate(536,481.5)">
<circle r="326" pathLength="360" stroke-dasharray="27.67 400" transform="rotate(188.39)"/>
<circle r="326" pathLength="360" stroke-dasharray="7.67 400" transform="rotate(217.28)"/>
<circle r="326" pathLength="360" stroke-dasharray="16.56 400" transform="rotate(226.17)"/>
<circle r="326" pathLength="360" stroke-dasharray="21 400" transform="rotate(243.94)"/>
<circle r="326" pathLength="360" stroke-dasharray="9.89 400" transform="rotate(266.17)"/>
<circle r="326" pathLength="360" stroke-dasharray="16.56 400" transform="rotate(277.28)"/>
<circle r="326" pathLength="360" stroke-dasharray="3.22 400" transform="rotate(295.06)"/>
<circle r="326" pathLength="360" stroke-dasharray="12.11 400" transform="rotate(299.5)"/>
<circle r="326" pathLength="360" stroke-dasharray="34.33 400" transform="rotate(312.83)"/>
<circle r="326" pathLength="360" stroke-dasharray="12.11 400" transform="rotate(348.39)"/>
<circle r="326" pathLength="360" stroke-dasharray="9.89 400" transform="rotate(361.72)"/>
<circle r="326" pathLength="360" stroke-dasharray="9.89 400" transform="rotate(372.83)"/>
<circle r="326" pathLength="360" stroke-dasharray="7.67 400" transform="rotate(383.94)"/>
<circle r="326" pathLength="360" stroke-dasharray="9.89 400" transform="rotate(392.83)"/>
<circle r="326" pathLength="360" stroke-dasharray="34.33 400" transform="rotate(403.94)"/>
<circle r="326" pathLength="360" stroke-dasharray="34.33 400" transform="rotate(439.5)"/>
<circle r="326" pathLength="360" stroke-dasharray="12.11 400" transform="rotate(475.06)"/>
<circle r="326" pathLength="360" stroke-dasharray="7.67 400" transform="rotate(488.39)"/>
<circle r="326" pathLength="360" stroke-dasharray="3.22 400" transform="rotate(497.28)"/>
<circle r="326" pathLength="360" stroke-dasharray="14.33 400" transform="rotate(501.72)"/>
<circle r="326" pathLength="360" stroke-dasharray="5.44 400" transform="rotate(517.28)"/>
<circle r="326" pathLength="360" stroke-dasharray="23.22 400" transform="rotate(523.94)"/>
<line x1="322.5" x2="326" transform="rotate(188.39)"/><line x1="322.5" x2="326" transform="rotate(216.06)"/><line x1="322.5" x2="326" transform="rotate(217.28)"/><line x1="322.5" x2="326" transform="rotate(224.94)"/><line x1="322.5" x2="326" transform="rotate(226.17)"/><line x1="322.5" x2="326" transform="rotate(242.72)"/><line x1="322.5" x2="326" transform="rotate(243.94)"/><line x1="322.5" x2="326" transform="rotate(264.94)"/><line x1="322.5" x2="326" transform="rotate(266.17)"/><line x1="322.5" x2="326" transform="rotate(276.06)"/><line x1="322.5" x2="326" transform="rotate(277.28)"/><line x1="322.5" x2="326" transform="rotate(293.83)"/><line x1="322.5" x2="326" transform="rotate(295.06)"/><line x1="322.5" x2="326" transform="rotate(298.28)"/><line x1="322.5" x2="326" transform="rotate(299.5)"/><line x1="322.5" x2="326" transform="rotate(311.61)"/><line x1="322.5" x2="326" transform="rotate(312.83)"/><line x1="322.5" x2="326" transform="rotate(347.17)"/><line x1="322.5" x2="326" transform="rotate(348.39)"/><line x1="322.5" x2="326" transform="rotate(360.5)"/><line x1="322.5" x2="326" transform="rotate(361.72)"/><line x1="322.5" x2="326" transform="rotate(371.61)"/><line x1="322.5" x2="326" transform="rotate(372.83)"/><line x1="322.5" x2="326" transform="rotate(382.72)"/><line x1="322.5" x2="326" transform="rotate(383.94)"/><line x1="322.5" x2="326" transform="rotate(391.61)"/><line x1="322.5" x2="326" transform="rotate(392.83)"/><line x1="322.5" x2="326" transform="rotate(402.72)"/><line x1="322.5" x2="326" transform="rotate(403.94)"/><line x1="322.5" x2="326" transform="rotate(438.28)"/><line x1="322.5" x2="326" transform="rotate(439.5)"/><line x1="322.5" x2="326" transform="rotate(473.83)"/><line x1="322.5" x2="326" transform="rotate(475.06)"/><line x1="322.5" x2="326" transform="rotate(487.17)"/><line x1="322.5" x2="326" transform="rotate(488.39)"/><line x1="322.5" x2="326" transform="rotate(496.06)"/><line x1="322.5" x2="326" transform="rotate(497.28)"/><line x1="322.5" x2="326" transform="rotate(500.5)"/><line x1="322.5" x2="326" transform="rotate(501.72)"/><line x1="322.5" x2="326" transform="rotate(516.06)"/><line x1="322.5" x2="326" transform="rotate(517.28)"/><line x1="322.5" x2="326" transform="rotate(522.72)"/><line x1="322.5" x2="326" transform="rotate(523.94)"/><line x1="322.5" x2="326" transform="rotate(547.17)"/>
</g>
<g id="groups">
<g class="ga" transform="translate(539.5,485)">
<circle r="412" pathLength="360" stroke-dasharray="10 400" stroke="hsl(128,60%,36%)" transform="rotate(225.9)"/>
<circle r="412" pathLength="360" stroke-dasharray="3.3 400" stroke="hsl(110,62%,36%)" transform="rotate(237.3)"/>
<circle r="412" pathLength="360" stroke-dasharray="18.7 400" stroke="hsl(88,66%,35%)" transform="rotate(241.9)"/>
<circle r="412" pathLength="360" stroke-dasharray="3.1 400" stroke="hsl(65,70%,35%)" transform="rotate(266.2)"/>
<circle r="412" pathLength="360" stroke-dasharray="5.4 400" stroke="hsl(40,74%,39%)" transform="rotate(306.6)"/>
<circle r="412" pathLength="360" stroke-dasharray="7.7 400" stroke="hsl(33,66%,42%)" transform="rotate(315.5)"/>
<circle r="412" pathLength="360" stroke-dasharray="5.3 400" stroke="hsl(19,52%,48%)" transform="rotate(331.1)"/>
<circle r="412" pathLength="360" stroke-dasharray="7.4 400" stroke="hsl(11,52%,50%)" transform="rotate(337.8)"/>
<circle r="412" pathLength="360" stroke-dasharray="12.1 400" stroke="hsl(352,52%,53%)" transform="rotate(348.9)"/>
<circle r="412" pathLength="360" stroke-dasharray="5.5 400" stroke="hsl(334,52%,53%)" transform="rotate(6.5)"/>
<circle r="412" pathLength="360" stroke-dasharray="3.3 400" stroke="hsl(316,52%,52%)" transform="rotate(24.1)"/>
<circle r="412" pathLength="360" stroke-dasharray="3.3 400" stroke="hsl(313,52%,52%)" transform="rotate(28.6)"/>
<circle r="412" pathLength="360" stroke-dasharray="9.8 400" stroke="hsl(308,52%,52%)" transform="rotate(32.9)"/>
<circle r="412" pathLength="360" stroke-dasharray="7.2 400" stroke="hsl(297,52%,53%)" transform="rotate(48.7)"/>
<circle r="412" pathLength="360" stroke-dasharray="5.5 400" stroke="hsl(291,52%,54%)" transform="rotate(57.5)"/>
<circle r="412" pathLength="360" stroke-dasharray="14.1 400" stroke="hsl(280,58%,57%)" transform="rotate(64.4)"/>
<circle r="412" pathLength="360" stroke-dasharray="18.6 400" stroke="hsl(262,60%,61%)" transform="rotate(79.7)"/>
<circle r="412" pathLength="360" stroke-dasharray="3 400" stroke="hsl(236,60%,58%)" transform="rotate(99.7)"/>
<circle r="412" pathLength="360" stroke-dasharray="9.6 400" stroke="hsl(214,72%,50%)" transform="rotate(104.1)"/>
<circle r="412" pathLength="360" stroke-dasharray="5.7 400" stroke="hsl(205,76%,45%)" transform="rotate(122)"/>
<circle r="412" pathLength="360" stroke-dasharray="7.7 400" stroke="hsl(201,72%,43%)" transform="rotate(128.5)"/>
<circle r="412" pathLength="360" stroke-dasharray="3 400" stroke="hsl(198,64%,42%)" transform="rotate(137.3)"/>
<circle r="412" pathLength="360" stroke-dasharray="3.2 400" stroke="hsl(196,62%,42%)" transform="rotate(141.6)"/>
<circle r="412" pathLength="360" stroke-dasharray="3.1 400" stroke="hsl(192,55%,43%)" transform="rotate(148.4)"/>
<circle r="412" pathLength="360" stroke-dasharray="6.8 400" stroke="hsl(187,54%,44%)" transform="rotate(154.8)"/>
<circle r="412" pathLength="360" stroke-dasharray="3.1 400" stroke="hsl(181,64%,39%)" transform="rotate(168.4)"/>
<circle r="412" pathLength="360" stroke-dasharray="5.6 400" stroke="hsl(177,66%,38%)" transform="rotate(172.6)"/>
<circle r="412" pathLength="360" stroke-dasharray="5.5 400" stroke="hsl(165,68%,36%)" transform="rotate(187.9)"/>
<circle r="412" pathLength="360" stroke-dasharray="6.3 400" stroke="hsl(161,68%,36%)" transform="rotate(193.9)"/>
<circle r="412" pathLength="360" stroke-dasharray="3 400" stroke="hsl(157,68%,36%)" transform="rotate(201.6)"/>
<circle r="412" pathLength="360" stroke-dasharray="7.4 400" stroke="hsl(149,68%,36%)" transform="rotate(208.5)"/>
<circle r="412" pathLength="360" stroke-dasharray="5.5 400" stroke="hsl(140,68%,36%)" transform="rotate(217.2)"/>
</g>
<g id="g-parp"><text class="g" x="264" y="154" fill="hsl(128,60%,36%)">PARP</text></g>
<g id="g-platins"><text class="g" x="307" y="122" fill="hsl(110,62%,36%)">platins</text></g>
<g id="g-topo"><text class="g" x="385" y="79" fill="hsl(88,66%,35%)">topoisomerase</text></g>
<g id="g-aurA"><text class="g" x="514" y="58" fill="hsl(65,70%,35%)">Aurora A</text></g>
<g id="g-ttk"><text class="g" x="807" y="158" fill="hsl(40,74%,39%)">TTK</text></g>
<g id="g-pancdk"><text class="g" x="876" y="200" fill="hsl(33,66%,42%)">pan-CDK</text></g>
<g id="g-tax"><text class="g" x="939" y="297" fill="hsl(19,52%,48%)">taxanes</text></g>
<g id="g-plk"><text class="g" x="949" y="352" fill="hsl(11,52%,50%)">PLK</text></g>
<g id="g-panaur"><text class="g" x="999" y="442" fill="hsl(352,52%,53%)">pan-Aurora</text></g>
<g id="g-pi3kgd"><text class="g" x="987" y="555" fill="hsl(334,52%,53%)">PI3K γ/δ</text></g>
<g id="g-rapa"><text class="g" x="995" y="672" fill="hsl(316,52%,52%)">mTOR - rapalogs</text></g>
<g id="g-atp"><text class="g" x="998" y="702" fill="hsl(313,52%,52%)">mTOR - ATP competitive</text></g>
<g id="g-panpi3k"><text class="g" x="908" y="748" fill="hsl(308,52%,52%)">pan-PI3K</text></g>
<g id="g-her2"><text class="g" x="822" y="830" fill="hsl(297,52%,53%)">HER2</text></g>
<g id="g-ablmk"><text class="g" x="811" y="860" fill="hsl(291,52%,54%)">ABL / multikinase</text></g>
<g id="g-egfr"><text class="g" x="690" y="898" fill="hsl(280,58%,57%)">EGFR</text></g>
<g id="g-pdgfra"><text class="g" x="548" y="918" fill="hsl(262,60%,61%)">PDGFRα</text></g>
<g id="g-abl"><text class="g" x="453" y="912" fill="hsl(236,60%,58%)">ABL</text></g>
<g id="g-mk"><text class="g" x="379" y="902" fill="hsl(214,72%,50%)">multikinase</text></g>
<g id="g-pur"><text class="g" x="270" y="838" fill="hsl(205,76%,45%)">purines</text></g>
<g id="g-ub"><text class="g" x="187" y="802" fill="hsl(201,72%,43%)">ubiquitin / SUMO</text></g>
<g id="g-ezh1"><text class="g" x="182" y="768" fill="hsl(198,64%,42%)">EZH2 cl.1</text></g>
<g id="g-bet"><text class="g" x="181" y="744" fill="hsl(196,62%,42%)">BET</text></g>
<g id="g-bcl"><text class="g" x="96" y="696" fill="hsl(192,55%,43%)">Bcl-2 / Bcl-Xl / Bcl-w</text></g>
<g id="g-igf"><text class="g" x="101" y="650" fill="hsl(187,54%,44%)">IGF1R / ALK</text></g>
<g id="g-alk"><text class="g" x="105" y="562" fill="hsl(181,64%,39%)">ALK</text></g>
<g id="g-ezh2"><text class="g" x="80" y="522" fill="hsl(177,66%,38%)">EZH2 cl.2</text></g>
<g id="g-cdk46"><text class="g" x="92" y="408" fill="hsl(165,68%,36%)">CDK4/6</text></g>
<g id="g-wee1"><text class="g" x="86" y="360" fill="hsl(161,68%,36%)">Wee1 / CHK1</text></g>
<g id="g-braf"><text class="g" x="129" y="323" fill="hsl(157,68%,36%)">BRAF</text></g>
<g id="g-mek"><text class="g" x="168" y="259" fill="hsl(149,68%,36%)">MEK</text></g>
<g id="g-hdac"><text class="g" x="195" y="217" fill="hsl(140,68%,36%)">HDAC</text></g>
</g>
<g id="leaves" class="l" transform="translate(536,481.5)">
<g id="n1"><text class="e c1" x="-330" transform="rotate(6.67)">LGK974</text></g>
<g id="n2"><text class="e c2" x="-330" transform="rotate(8.89)">ribociclib</text></g>
<g id="n3"><text class="e c3" x="-330" transform="rotate(11.11)">palbociclib</text></g>
<g id="n4"><text class="e c4" x="-330" transform="rotate(13.33)">abemaciclib</text></g>
<g id="n5"><text class="e c5" x="-330" transform="rotate(15.56)">SCH900776</text></g>
<g id="n6"><text class="e c6" x="-330" transform="rotate(17.78)">CHIR-124</text></g>
<g id="n7"><text class="e c7" x="-330" transform="rotate(20)">MK-1775</text></g>
<g id="n8"><text class="e c8" x="-330" transform="rotate(22.22)">vemurafenib</text></g>
<g id="n9"><text class="e c9" x="-330" transform="rotate(24.44)">dabrafenib</text></g>
<g id="n10"><text class="e c10" x="-330" transform="rotate(26.67)">UMI-77</text></g>
<g id="n11"><text class="e c11" x="-330" transform="rotate(28.89)">trametinib</text></g>
<g id="n12"><text class="e c12" x="-330" transform="rotate(31.11)">selumetinib</text></g>
<g id="n13"><text class="e c13" x="-330" transform="rotate(33.33)">PD0325901</text></g>
<g id="n14"><text class="e c14" x="-330" transform="rotate(35.56)">cobimetinib</text></g>
<g id="n15"><text class="e c15" x="-330" transform="rotate(37.78)">vorinostat</text></g>
<g id="n16"><text class="e c16" x="-330" transform="rotate(40)">panobinostat</text></g>
<g id="n17"><text class="e c17" x="-330" transform="rotate(42.22)">entinostat</text></g>
<g id="n18"><text class="e c18" x="-330" transform="rotate(44.44)">BLU9931</text></g>
<g id="n19"><text class="e c19" x="-330" transform="rotate(46.67)">talazoparib</text></g>
<g id="n20"><text class="e c20" x="-330" transform="rotate(48.89)">olaparib</text></g>
<g id="n21"><text class="e c21" x="-330" transform="rotate(51.11)">rucaparib</text></g>
<g id="n22"><text class="e c22" x="-330" transform="rotate(53.33)">niraparib</text></g>
<g id="n23"><text class="e c23" x="-330" transform="rotate(55.56)">melphalan</text></g>
<g id="n24"><text class="e c24" x="-330" transform="rotate(57.78)">cisplatin</text></g>
<g id="n25"><text class="e c25" x="-330" transform="rotate(60)">carboplatin</text></g>
<g id="n26"><text class="e c26" x="-330" transform="rotate(62.22)">etoposide</text></g>
<g id="n27"><text class="e c27" x="-330" transform="rotate(64.44)">daunorubicin</text></g>
<g id="n28"><text class="e c28" x="-330" transform="rotate(66.67)">epirubicin</text></g>
<g id="n29"><text class="e c29" x="-330" transform="rotate(68.89)">doxorubicin</text></g>
<g id="n30"><text class="e c30" x="-330" transform="rotate(71.11)">mitoxantrone</text></g>
<g id="n31"><text class="e c31" x="-330" transform="rotate(73.33)">topotecan</text></g>
<g id="n32"><text class="e c32" x="-330" transform="rotate(75.56)">irinotecan</text></g>
<g id="n33"><text class="e c33" x="-330" transform="rotate(77.78)">SN-38</text></g>
<g id="n34"><text class="e c34" x="-330" transform="rotate(80)">camptothecin</text></g>
<g id="n35"><text class="e c35" x="-330" transform="rotate(82.22)">pevonedistat</text></g>
<g id="n36"><text class="e c36" x="-330" transform="rotate(84.44)">gemcitabine</text></g>
<g id="n37"><text class="e c37" x="-330" transform="rotate(86.67)">MLN8054</text></g>
<g id="n38"><text class="e c38" x="-330" transform="rotate(88.89)">MK-5108</text></g>
<g id="n39"><text class="c39" x="330" transform="rotate(-88.89)">S-trityl-L-cysteine</text></g>
<g id="n40"><text class="c40" x="330" transform="rotate(-86.67)">nutlin-3a</text></g>
<g id="n41"><text class="c41" x="330" transform="rotate(-84.44)">fluorouracil</text></g>
<g id="n42"><text class="c42" x="330" transform="rotate(-82.22)">TH588</text></g>
<g id="n43"><text class="c43" x="330" transform="rotate(-80)">KU-60019</text></g>
<g id="n44"><text class="c44" x="330" transform="rotate(-77.78)">buparlisib</text></g>
<g id="n45"><text class="c45" x="330" transform="rotate(-75.56)">sunitinib</text></g>
<g id="n46"><text class="c46" x="330" transform="rotate(-73.33)">Mps1-IN-1</text></g>
<g id="n47"><text class="c47" x="330" transform="rotate(-71.11)">cytarabine</text></g>
<g id="n48"><text class="c48" x="330" transform="rotate(-68.89)">BIIB021</text></g>
<g id="n49"><text class="c49" x="330" transform="rotate(-66.67)">LB42708</text></g>
<g id="n50"><text class="c50" x="330" transform="rotate(-64.44)">mubritinib</text></g>
<g id="n51"><text class="c51" x="330" transform="rotate(-62.22)">brivanib</text></g>
<g id="n52"><text class="c52" x="330" transform="rotate(-60)">midostaurin</text></g>
<g id="n53"><text class="c53" x="330" transform="rotate(-57.78)">CYC116</text></g>
<g id="n54"><text class="c54" x="330" transform="rotate(-55.56)">momelotinib</text></g>
<g id="n55"><text class="c55" x="330" transform="rotate(-53.33)">NMS-P715</text></g>
<g id="n56"><text class="c56" x="330" transform="rotate(-51.11)">MPI-0479605</text></g>
<g id="n57"><text class="c57" x="330" transform="rotate(-48.89)">reversine</text></g>
<g id="n58"><text class="c58" x="330" transform="rotate(-46.67)">ML-792</text></g>
<g id="n59"><text class="c59" x="330" transform="rotate(-44.44)">dinaciclib</text></g>
<g id="n60"><text class="c60" x="330" transform="rotate(-42.22)">vincristine</text></g>
<g id="n61"><text class="c61" x="330" transform="rotate(-40)">AT-7519</text></g>
<g id="n62"><text class="c62" x="330" transform="rotate(-37.78)">PHA-793887</text></g>
<g id="n63"><text class="c63" x="330" transform="rotate(-35.56)">actinomycin D</text></g>
<g id="n64"><text class="c64" x="330" transform="rotate(-33.33)">ICG-001</text></g>
<g id="n65"><text class="c65" x="330" transform="rotate(-31.11)">carfilzomib</text></g>
<g id="n66"><text class="c66" x="330" transform="rotate(-28.89)">paclitaxel</text></g>
<g id="n67"><text class="c67" x="330" transform="rotate(-26.67)">docetaxel</text></g>
<g id="n68"><text class="c68" x="330" transform="rotate(-24.44)">vinblastine</text></g>
<g id="n69"><text class="c69" x="330" transform="rotate(-22.22)">volasertib</text></g>
<g id="n70"><text class="c70" x="330" transform="rotate(-20)">BI 2536</text></g>
<g id="n71"><text class="c71" x="330" transform="rotate(-17.78)">vinflunine</text></g>
<g id="n72"><text class="c72" x="330" transform="rotate(-15.56)">GSK461364</text></g>
<g id="n73"><text class="c73" x="330" transform="rotate(-13.33)">kadcyla</text></g>
<g id="n74"><text class="c74" x="330" transform="rotate(-11.11)">tozasertib</text></g>
<g id="n75"><text class="c75" x="330" transform="rotate(-8.89)">danusertib</text></g>
<g id="n76"><text class="c76" x="330" transform="rotate(-6.67)">crizotinib</text></g>
<g id="n77"><text class="c77" x="330" transform="rotate(-4.44)">GSK1070916</text></g>
<g id="n78"><text class="c78" x="330" transform="rotate(-2.22)">AT9283</text></g>
<g id="n79"><text class="c79" x="330" transform="rotate(0)">AMG-900</text></g>
<g id="n80"><text class="c80" x="330" transform="rotate(2.22)">prednisolone</text></g>
<g id="n81"><text class="c81" x="330" transform="rotate(4.44)">bortezomib</text></g>
<g id="n82"><text class="c82" x="330" transform="rotate(6.67)">idelalisib</text></g>
<g id="n83"><text class="c83" x="330" transform="rotate(8.89)">duvelisib</text></g>
<g id="n84"><text class="c84" x="330" transform="rotate(11.11)">TGX-221</text></g>
<g id="n85"><text class="c85" x="330" transform="rotate(13.33)">patupilone</text></g>
<g id="n86"><text class="c86" x="330" transform="rotate(15.56)">MK-2206</text></g>
<g id="n87"><text class="c87" x="330" transform="rotate(17.78)">mitomycin C</text></g>
<g id="n88"><text class="c88" x="330" transform="rotate(20)">ipatasertib</text></g>
<g id="n89"><text class="c89" x="330" transform="rotate(22.22)">eribulin</text></g>
<g id="n90"><text class="c90" x="330" transform="rotate(24.44)">temsirolimus</text></g>
<g id="n91"><text class="c91" x="330" transform="rotate(26.67)">everolimus</text></g>
<g id="n92"><text class="c92" x="330" transform="rotate(28.89)">dactolisib</text></g>
<g id="n93"><text class="c93" x="330" transform="rotate(31.11)">AZD8055</text></g>
<g id="n94"><text class="c94" x="330" transform="rotate(33.33)">pictilisib</text></g>
<g id="n95"><text class="c95" x="330" transform="rotate(35.56)">apitolisib</text></g>
<g id="n96"><text class="c96" x="330" transform="rotate(37.78)">taselisib</text></g>
<g id="n97"><text class="c97" x="330" transform="rotate(40)">copanlisib</text></g>
<g id="n98"><text class="c98" x="330" transform="rotate(42.22)">alpelisib</text></g>
<g id="n99"><text class="c99" x="330" transform="rotate(44.44)">XAV939</text></g>
<g id="n100"><text class="c100" x="330" transform="rotate(46.67)">all-trans retinoic acid</text></g>
<g id="n101"><text class="c101" x="330" transform="rotate(48.89)">irbinitinib</text></g>
<g id="n102"><text class="c102" x="330" transform="rotate(51.11)">acalabrutinib</text></g>
<g id="n103"><text class="c103" x="330" transform="rotate(53.33)">herceptin</text></g>
<g id="n104"><text class="c104" x="330" transform="rotate(55.56)">pelitinib</text></g>
<g id="n105"><text class="c105" x="330" transform="rotate(57.78)">vandetanib</text></g>
<g id="n106"><text class="c106" x="330" transform="rotate(60)">bosutinib</text></g>
<g id="n107"><text class="c107" x="330" transform="rotate(62.22)">dasatinib</text></g>
<g id="n108"><text class="c108" x="330" transform="rotate(64.44)">gefitinib</text></g>
<g id="n109"><text class="c109" x="330" transform="rotate(66.67)">afatinib</text></g>
<g id="n110"><text class="c110" x="330" transform="rotate(68.89)">ibrutinib</text></g>
<g id="n111"><text class="c111" x="330" transform="rotate(71.11)">lapatinib</text></g>
<g id="n112"><text class="c112" x="330" transform="rotate(73.33)">osimertinib</text></g>
<g id="n113"><text class="c113" x="330" transform="rotate(75.56)">neratinib</text></g>
<g id="n114"><text class="c114" x="330" transform="rotate(77.78)">erlotinib</text></g>
<g id="n115"><text class="c115" x="330" transform="rotate(80)">tivozanib</text></g>
<g id="n116"><text class="c116" x="330" transform="rotate(82.22)">cabozantinib</text></g>
<g id="n117"><text class="c117" x="330" transform="rotate(84.44)">axitinib</text></g>
<g id="n118"><text class="c118" x="330" transform="rotate(86.67)">nintedanib</text></g>
<g id="n119"><text class="c119" x="330" transform="rotate(88.89)">masitinib</text></g>
<g id="n120"><text class="e c120" x="-330" transform="rotate(-88.89)">imatinib</text></g>
<g id="n121"><text class="e c121" x="-330" transform="rotate(-86.67)">vatalanib</text></g>
<g id="n122"><text class="e c122" x="-330" transform="rotate(-84.44)">pexidartinib</text></g>
<g id="n123"><text class="e c123" x="-330" transform="rotate(-82.22)">quizartinib</text></g>
<g id="n124"><text class="e c124" x="-330" transform="rotate(-80)">ponatinib</text></g>
<g id="n125"><text class="e c125" x="-330" transform="rotate(-77.78)">nilotinib</text></g>
<g id="n126"><text class="e c126" x="-330" transform="rotate(-75.56)">lenvatinib</text></g>
<g id="n127"><text class="e c127" x="-330" transform="rotate(-73.33)">BGJ398</text></g>
<g id="n128"><text class="e c128" x="-330" transform="rotate(-71.11)">regorafenib</text></g>
<g id="n129"><text class="e c129" x="-330" transform="rotate(-68.89)">pazopanib</text></g>
<g id="n130"><text class="e c130" x="-330" transform="rotate(-66.67)">sorafenib</text></g>
<g id="n131"><text class="e c131" x="-330" transform="rotate(-64.44)">methotrexate</text></g>
<g id="n132"><text class="e c132" x="-330" transform="rotate(-62.22)">degrasyn</text></g>
<g id="n133"><text class="e c133" x="-330" transform="rotate(-60)">obatoclax</text></g>
<g id="n134"><text class="e c134" x="-330" transform="rotate(-57.78)">thioguanine</text></g>
<g id="n135"><text class="e c135" x="-330" transform="rotate(-55.56)">mercaptopurine</text></g>
<g id="n136"><text class="e c136" x="-330" transform="rotate(-53.33)">dacarbazine</text></g>
<g id="n137"><text class="e c137" x="-330" transform="rotate(-51.11)">MLN7243</text></g>
<g id="n138"><text class="e c138" x="-330" transform="rotate(-48.89)">MG-132</text></g>
<g id="n139"><text class="e c139" x="-330" transform="rotate(-46.67)">D08</text></g>
<g id="n140"><text class="e c140" x="-330" transform="rotate(-44.44)">Bay11-7085</text></g>
<g id="n141"><text class="e c141" x="-330" transform="rotate(-42.22)">tazemetostat</text></g>
<g id="n142"><text class="e c142" x="-330" transform="rotate(-40)">GSK126</text></g>
<g id="n143"><text class="e c143" x="-330" transform="rotate(-37.78)">JQ1</text></g>
<g id="n144"><text class="e c144" x="-330" transform="rotate(-35.56)">I-BET-762</text></g>
<g id="n145"><text class="e c145" x="-330" transform="rotate(-33.33)">busulfan</text></g>
<g id="n146"><text class="e c146" x="-330" transform="rotate(-31.11)">navitoclax</text></g>
<g id="n147"><text class="e c147" x="-330" transform="rotate(-28.89)">ABT-737</text></g>
<g id="n148"><text class="e c148" x="-330" transform="rotate(-26.67)">GDC-0152</text></g>
<g id="n149"><text class="e c149" x="-330" transform="rotate(-24.44)">GSK1838705A</text></g>
<g id="n150"><text class="e c150" x="-330" transform="rotate(-22.22)">ceritinib</text></g>
<g id="n151"><text class="e c151" x="-330" transform="rotate(-20)">NVP-ADW742</text></g>
<g id="n152"><text class="e c152" x="-330" transform="rotate(-17.78)">fulvestrant</text></g>
<g id="n153"><text class="e c153" x="-330" transform="rotate(-15.56)">temozolomide</text></g>
<g id="n154"><text class="e c154" x="-330" transform="rotate(-13.33)">ruxolitinib</text></g>
<g id="n155"><text class="e c155" x="-330" transform="rotate(-11.11)">brigatinib</text></g>
<g id="n156"><text class="e c156" x="-330" transform="rotate(-8.89)">alectinib</text></g>
<g id="n157"><text class="e c157" x="-330" transform="rotate(-6.67)">UNC1999</text></g>
<g id="n158"><text class="e c158" x="-330" transform="rotate(-4.44)">GSK343</text></g>
<g id="n159"><text class="e c159" x="-330" transform="rotate(-2.22)">EPZ005687</text></g>
<g id="n160"><text class="e c160" x="-330" transform="rotate(0)">venetoclax</text></g>
<g id="n161"><text class="e c161" x="-330" transform="rotate(2.22)">roscovitine</text></g>
<g id="n162"><text class="e c162" x="-330" transform="rotate(4.44)">BAY-320</text></g>
</g>
</svg>
